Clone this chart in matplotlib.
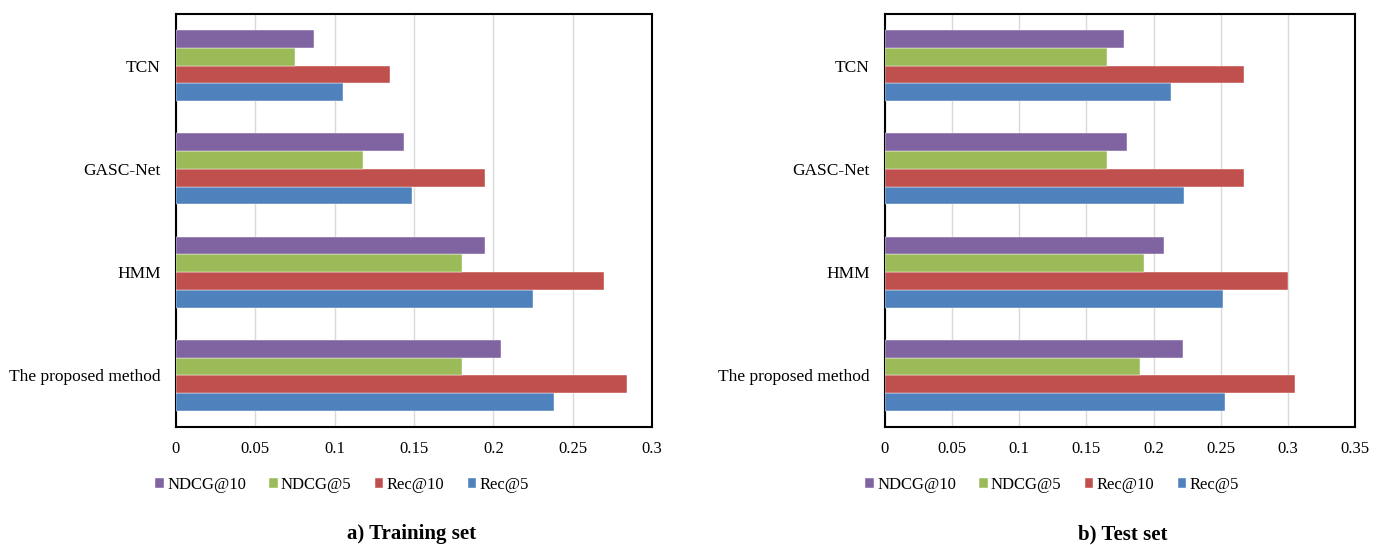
import matplotlib.pyplot as plt
import numpy as np

plt.rcParams['font.family'] = ['Liberation Serif', 'DejaVu Serif']

# categories bottom-to-top, as drawn
categories = ['The proposed method', 'HMM', 'GASC-Net', 'TCN']
series = ['Rec@5', 'Rec@10', 'NDCG@5', 'NDCG@10']
colors = ['#4F81BD', '#C0504D', '#9BBB59', '#8064A2']

# training set (same order as categories)
train_rec5 = [0.238, 0.225, 0.149, 0.105]
train_rec10 = [0.284, 0.270, 0.195, 0.135]
train_ndcg5 = [0.180, 0.180, 0.118, 0.075]
train_ndcg10 = [0.205, 0.195, 0.144, 0.087]

# test set
test_rec5 = [0.253, 0.252, 0.223, 0.213]
test_rec10 = [0.305, 0.300, 0.267, 0.267]
test_ndcg5 = [0.190, 0.193, 0.165, 0.165]
test_ndcg10 = [0.222, 0.208, 0.180, 0.178]

W, H = 1383, 545
fig = plt.figure(figsize=(W / 100, H / 100), dpi=100)

ax1 = fig.add_axes([176 / W, 118 / H, 476 / W, 413 / H])
ax2 = fig.add_axes([885 / W, 118 / H, 470 / W, 413 / H])

bh = 0.172
y = np.arange(len(categories))


def draw(ax, vals, xmax, step):
    for k, (v, c) in enumerate(zip(vals, colors)):
        ax.barh(y + (k - 1.5) * bh, v, height=bh, color=c, label=series[k],
                edgecolor='white', linewidth=0.3, zorder=3)
    ax.set_ylim(-0.5, 3.5)
    ax.set_xlim(0, xmax)
    ax.set_yticks(y)
    ax.set_yticklabels(categories, fontsize=12.5)
    ticks = np.round(np.arange(0, xmax + 1e-9, step), 2)
    ax.set_xticks(ticks)
    ax.set_xticklabels(['0' if t == 0 else f'{t:g}' for t in ticks], fontsize=12)
    ax.tick_params(axis='both', length=0)
    ax.tick_params(axis='y', pad=11)
    ax.tick_params(axis='x', pad=10)
    ax.grid(axis='x', color='#d9d9d9', linewidth=1, zorder=0)
    for s in ax.spines.values():
        s.set_linewidth(1.5)
        s.set_color('black')


draw(ax1, [train_rec5, train_rec10, train_ndcg5, train_ndcg10], 0.3, 0.05)
draw(ax2, [test_rec5, test_rec10, test_ndcg5, test_ndcg10], 0.35, 0.05)

handles, labels = ax1.get_legend_handles_labels()
handles, labels = handles[::-1], labels[::-1]
for cx in (342, 1052):
    fig.legend(handles, labels, loc='center', bbox_to_anchor=(cx / W, 1 - 485 / H),
               ncol=4, frameon=False, fontsize=12, handlelength=0.5, handleheight=0.5,
               handletextpad=0.2, columnspacing=1.4)

fig.text(412 / W, 1 / H, 'a) Training set', ha='center', va='bottom',
         fontsize=15, fontweight='bold')
fig.text(1123 / W, 1 / H, 'b) Test set', ha='center', va='bottom',
         fontsize=15, fontweight='bold')

plt.savefig('out.png', dpi=100)
